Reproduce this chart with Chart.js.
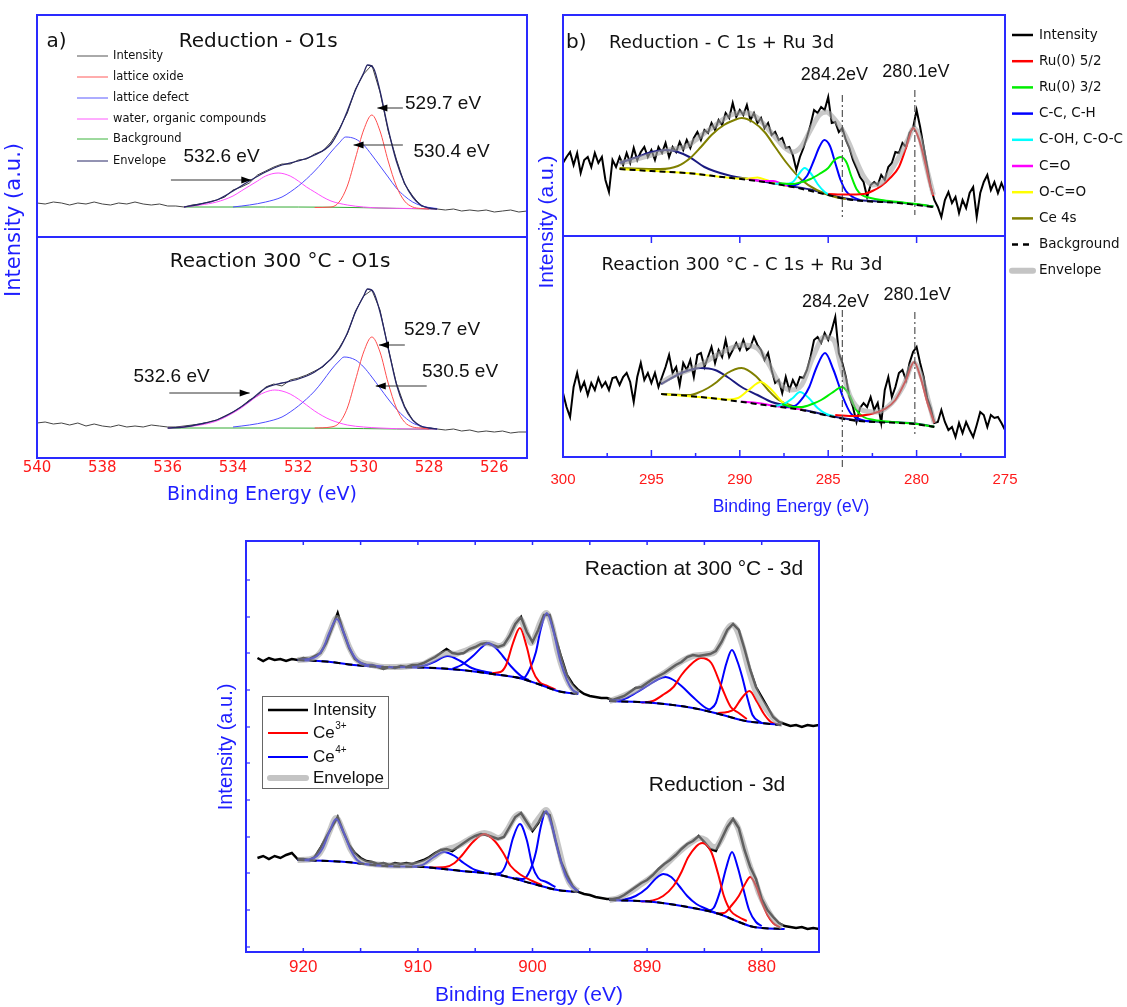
<!DOCTYPE html>
<html>
<head>
<meta charset="utf-8">
<script src="https://cdn.jsdelivr.net/npm/chart.js@4.4.1/dist/chart.umd.min.js"></script>
<style>
  html, body { margin: 0; background: #fff; }
  #page { position: relative; width: 1127px; height: 1007px; overflow: hidden; background: #fff; }
  #page canvas { position: absolute; left: 0; top: 0; }
</style>
</head>
<body>
<div id="page">
  <canvas id="aTop"></canvas>
  <canvas id="aBot"></canvas>
  <canvas id="bTop"></canvas>
  <canvas id="bBot"></canvas>
  <canvas id="cAll"></canvas>
</div>
<script>
// ---------- panel a : O 1s ----------
const aTicks = [540, 538, 536, 534, 532, 530, 528, 526];
const aStart = 540, aStep = 0.25;

const aTopIntensity = [34,33,35,34,32,34,33,35,33,32, 34,33,35,33,32,33,31,31,30,32,
  33,35,37,40,47,50,54,62,66,70, 73,73,77,78,83,86,95,108,124,148,
  163,172,145,106,78,53,41,31,29,28, 27,28,26,27,26,27,25,26,27,25, 26];
const aTopEnvelope = [[535.5,30],[535,33],[534.5,37],[534,46],[533.5,56],[533,65],[532.5,72],[532,76],[531.5,82],[531,93],[530.75,107],[530.5,126],[530.25,147],[530,164],[529.88,172],[529.7,169],[529.5,146],[529.25,108],[529,76],[528.75,54],[528.5,40],[528.25,32],[528,29],[527.75,28]];
const aTopOxide = [[531.5,29.5],[531,30],[530.75,35],[530.5,51],[530.25,79],[530,107],[529.75,122],[529.5,106],[529.25,76],[529,51],[528.75,36],[528.5,30],[528.25,28.5],[528,28]];
const aTopDefect = [[534,30],[533.5,32],[533,35],[532.5,40],[532.25,45],[532,51],[531.75,58],[531.5,66],[531.25,75],[531,85],[530.75,94],[530.55,100],[530.25,98],[530,92],[529.75,82],[529.5,71],[529.25,60],[529,49],[528.75,41],[528.5,35],[528.25,31.5],[528,29.5],[527.75,28.5]];
const aTopWater = [[535.5,30],[535,32],[534.5,35],[534,41],[533.75,46],[533.5,51],[533.25,56],[533,61],[532.62,64],[532.25,61],[532,56],[531.75,50],[531.5,45],[531.25,40],[531,36],[530.5,32],[530,30],[529.5,29],[528.5,28.5],[527.75,28]];
const aTopBackground = [[535.5,30],[533,30],[531,29.8],[530,29.3],[529,28.6],[528,28.1],[527.75,28]];

const aBotIntensity = [35,36,34,35,33,35,32,34,32,31, 33,31,32,31,33,32,31,31,32,33,
  34,36,38,42,46,51,58,62,71,74, 72,78,80,83,87,91,99,110,124,147,
  162,168,148,110,75,52,38,31,30,29, 28,29,27,28,26,27,26,27,25,26, 26];
const aBotEnvelope = [[536,30],[535.5,31],[535,34],[534.5,38],[534,46],[533.5,57],[533,70],[532.75,73],[532.5,75],[532,79],[531.5,86],[531,99],[530.75,109],[530.5,125],[530.25,146],[530,162],[529.88,169],[529.7,166],[529.5,146],[529.25,110],[529,74],[528.75,51],[528.5,38],[528.25,32],[528,30],[527.75,29]];
const aBotOxide = [[531.5,30],[531,31],[530.75,35],[530.5,50],[530.25,78],[530,106],[529.75,121],[529.5,106],[529.25,75],[529,50],[528.75,36],[528.5,31],[528.25,30],[528,29]];
const aBotDefect = [[534,31],[533.5,33],[533,36],[532.5,41],[532.25,46],[532,52],[531.75,59],[531.5,67],[531.25,77],[531,88],[530.75,97],[530.6,101],[530.25,98],[530,91],[529.75,81],[529.5,70],[529.25,59],[529,49],[528.75,41],[528.5,35],[528.25,32],[528,30],[527.75,29]];
const aBotWater = [[536,30],[535.5,31],[535,33],[534.5,37],[534,45],[533.75,50],[533.5,56],[533.25,62],[533,66],[532.72,68],[532.5,67],[532.25,64],[532,59],[531.75,53],[531.5,47],[531.25,42],[531,38],[530.5,33],[530,31],[529.5,30],[528.5,29],[527.75,29]];
const aBotBackground = [[536,30],[533,30],[531,29.8],[530,29.4],[529,29],[528,28.8],[527.75,28.7]];

// ---------- panel b : C 1s + Ru 3d ----------
const bTicks = [300, 295, 290, 285, 280, 275];
const bMinor = [297.5, 292.5, 287.5, 282.5, 277.5];
const bStart = 300, bStep = 0.2;

const bTopIntensity = [73,79,84,71,83,63,76,79,69,83, 73,79,56,44,76,69,79,71,83,73,
  88,76,84,89,79,86,76,89,83,93, 79,89,84,94,86,96,88,98,104,96,
  106,103,113,106,116,111,123,118,133,119, 126,121,131,116,123,113,118,108,113,101,
  104,96,98,88,89,81,66,79,88,99, 111,126,123,129,126,139,113,114,104,108,
  96,88,76,68,59,54,39,51,54,51, 61,56,69,73,84,83,93,89,103,108,
  126,109,89,69,49,36,29,19,36,44, 33,39,23,36,28,43,49,19,43,54, 61,46,54,43,53,44];
const bTopBackground = [[296.8,67],[295,65],[293,63],[291,59],[289,55],[287,49],[285,41],[284,37],[283,35],[281,33],[280,31],[279.05,29]];
const bTopExtra = [[296.8,73],[295.8,79],[295,84],[294.1,86],[293.5,84],[292.85,79],[292,69],[290.7,61],[289.5,57],[288.2,53],[287,49.5],[286,46.5],[285,41.5],[284,37.5],[283,35.5],[281,33.5],[280,31.5],[279.05,29.5]];
const bTopCe4s = [[296.8,68],[294.5,67],[293.5,70],[292.8,78],[292.2,89],[291.6,101],[290.9,111],[290.3,116],[289.9,118],[289.25,114],[288.6,104],[288,89],[287.35,73],[286.5,56],[285.65,46],[284.6,39],[284,37]];
const bTopOCO = [[296.8,67],[293,63],[291,59],[290,57.5],[289.5,57.5],[289,58.5],[288.5,56],[288,53],[287,49]];
const bTopCO = [[289.5,56.5],[288.6,55],[288.1,55],[287.6,52],[287,49]];
const bTopCOH = [[288,52.5],[287.5,52],[287,54],[286.7,61],[286.33,68],[286,63],[285.6,52],[285.2,44],[284.8,40]];
const bTopCC = [[287.3,50],[286.7,52],[286.2,60],[285.8,76],[285.5,89],[285.22,96],[284.9,90],[284.6,73],[284.3,56],[284,45],[283.6,39],[283.2,36]];
const bTopRu32 = [[287.8,53],[287,52],[286.5,54],[286,57],[285.5,62],[285,68],[284.7,75],[284.27,79],[283.95,73],[283.7,60],[283.4,47],[283.1,41],[282.6,38],[282,36],[281,34],[280,32],[279.05,29.5]];
const bTopRu52 = [[285,42],[284,41.5],[283,42],[282.5,45],[282,50],[281.5,58],[281,69],[280.6,88],[280.19,108],[279.85,96],[279.5,72],[279.25,52],[279.05,40]];
const bTopEnvelope = [[296.8,73],[296,76],[295,81],[294,86],[293,90],[292.5,96],[292,103],[291.5,109],[291,116],[290.5,121],[290,123],[289.5,123],[289,118],[288.5,109],[288,99],[287.5,89],[287,84],[286.5,90],[286,106],[285.5,121],[285.1,124],[284.7,118],[284.2,106],[283.8,92],[283.5,79],[283,60],[282.5,51],[282,53],[281.5,64],[281,79],[280.5,96],[280.15,108],[279.8,97],[279.5,73],[279.25,55],[279.05,41]];

const bBotIntensity = [64,50,40,70,84,67,75,62,74,67, 79,70,75,67,79,80,72,80,84,75,
  55,80,94,77,84,74,84,70,80,90, 102,84,90,72,94,87,97,80,102,104,
  90,100,110,94,107,100,117,100,107,114, 107,117,107,110,120,112,107,97,104,87,
  74,77,64,80,67,77,70,80,79,87, 100,117,120,114,124,117,127,140,104,94,
  80,60,50,35,49,54,50,60,47,54, 34,67,80,60,70,84,87,77,94,105,
  110,94,80,59,49,34,35,47,35,27, 30,20,34,24,35,27,20,32,45,42, 30,42,39,40,34,27];
const bBotBackground = [[294.45,63],[292.85,61],[290.7,57],[288.6,52],[286.5,47],[285.2,42],[284.4,39],[283.3,36],[282.3,35],[280.1,33],[279,30]];
const bBotExtra = [[294.45,73],[293.3,84],[292.2,89],[291.4,87],[290.7,80],[289.9,70],[289,62],[288.2,55],[287.3,51],[286.5,47.5],[285.2,42.5],[284.4,39.5],[283.3,36.5],[282.3,35.5],[280.1,33.5],[279,30.5]];
const bBotCe4s = [[294.45,63],[292.8,62],[292.4,64],[291.8,69],[291.3,75],[290.7,84],[289.9,89],[289.1,81],[288.4,67],[287.8,57],[287,51],[286.5,48]];
const bBotOCO = [[294.45,63],[292,59.5],[290.6,57.5],[290.1,59],[289.5,67],[288.82,75],[288.2,67],[287.6,55],[287.1,50],[286.5,47.5]];
const bBotCO = [[289.9,55.5],[289,54],[288,51],[287,49],[286.3,46.5]];
const bBotCOH = [[288,51],[287.5,53],[287,59],[286.6,65],[286.1,59],[285.6,49],[285.1,43],[284.7,41]];
const bBotCC = [[287.5,50],[286.9,51],[286.4,60],[286.07,70],[285.65,90],[285.18,104],[284.7,87],[284.4,72],[284.17,60],[283.74,44],[283.1,37],[282.5,35.5]];
const bBotRu32 = [[287.6,53],[287,50],[286.5,50],[285.9,53],[285.4,57],[284.8,64],[284.21,70],[283.8,62],[283.45,48],[283,40],[282.4,37],[281.4,35],[280.1,33.2],[279,30.2]];
const bBotRu52 = [[284.6,42],[283.5,41],[282.7,42.5],[282.2,45],[281.8,48],[281.2,57],[280.6,77],[280.14,95],[279.75,78],[279.4,55],[279,34]];
const bBotEnvelope = [[294.45,74],[293.9,80],[292.85,87],[292.2,92],[291.6,99],[290.73,107],[289.88,112],[289.03,109],[288.4,94],[287.76,74],[287.13,67],[286.5,72],[285.86,100],[285.22,120],[284.7,117],[284.27,90],[283.74,60],[283.1,47],[282.26,45],[281.4,54],[280.78,70],[280.14,94],[279.72,80],[279.3,54],[279,34]];

// ---------- panel c : Ce 3d ----------
const cTicks = [920, 910, 900, 890, 880];
const cMinor = [920, 915, 910, 905, 900, 895, 890, 885, 880];
const cYTicks = [5, 42, 79, 115, 152, 189, 225, 262, 299, 335, 372];
const cStart = 924, cStep = 0.5;

const cRxIntensity = [294,291,294,292,293,291,293,292,294,293, 296,299,309,324,339,320,304,293,289,287,
  287,285,283,285,284,286,285,287,287,289, 292,295,299,303,299,298,299,303,305,308,
  309,307,305,307,316,328,335,320,310,322, 337,337,315,295,277,268,262,258,256,255,
  254,254,252,254,256,260,264,265,269,273, 276,279,283,287,290,295,297,296,297,298,
  301,310,322,328,322,303,282,265,255,245, 235,230,228,226,227,225,227,226,227];
const cRxBackground = [
  [[920.5,292],[917.6,290],[915.6,287],[912.9,285],[909.6,284.5],[906.2,282],[903.5,278],[901.2,274],[899.5,268],[897.8,261],[896,258]],
  [[893.3,251],[889.4,249],[886,244],[883.4,237],[881.4,231],[880,229],[878.3,227]]];
const cRxCe4 = [
  [[920.5,292],[919.5,293],[918.8,296],[918.3,303],[917.7,320],[917.08,333],[916.5,320],[916,305],[915.4,293],[914.8,288],[914,286.5],[913,285.5]],
  [[910.5,285],[909.6,286],[908.6,290],[907.4,296],[906.3,291],[905.3,284],[904.2,280.5],[903.5,279]],
  [[907,283],[906.2,287],[905.2,296],[904.4,305],[903.87,309],[903.2,304],[902.6,296],[901.9,286],[901,276],[900.3,272]],
  [[901.5,275],[900.8,274],[900.2,284],[899.7,300],[899.3,322],[898.76,339],[898.2,322],[897.6,292],[897,272],[896.5,262],[896,259]],
  [[893.3,251],[892,253],[891,259],[890,266],[889,273],[888.4,275],[887.7,272],[887,266],[886,255],[885,245],[884.5,242]],
  [[884.6,242],[884,249],[883.5,270],[883.1,288],[882.6,302],[882.1,290],[881.7,275],[881.2,252],[880.8,237],[880,229]]];
const cRxCe3 = [
  [[903.5,279],[902.8,280],[902.3,287],[901.7,309],[901.1,324],[900.5,305],[900,282],[899.4,270],[898.8,266.5],[898,262.5]],
  [[890.5,249.5],[889.5,251],[888.5,258],[887.7,265],[887,277],[886.4,285],[885.3,294],[884.4,289],[883.5,265],[882.7,245],[882,239],[881.3,233]],
  [[883.8,239],[883,240],[882.4,243],[881.8,253],[881.07,261],[880.4,250],[879.8,238],[879.2,230],[878.5,227.5]]];
const cRxEnvelope = [
  [[920.5,292],[919.5,293],[918.8,296],[918.3,303],[917.7,320],[917.08,334],[916.5,320],[916,305],[915.4,293],[914.8,289],[914,287],[913,285],[912,285],[911,285.5],[910,287],[909.5,288],[909,291],[908.5,294],[907.8,298],[907.4,299],[906.8,298],[906.2,300],[905.5,303],[904.8,307],[904.2,309],[903.5,308],[903,306],[902.6,307],[902.1,314],[901.6,326],[901.1,333],[900.6,322],[900.1,309],[899.7,318],[899.3,330],[898.8,339],[898.3,326],[897.8,300],[897.3,281],[896.8,268],[896.3,261],[896,259]],
  [[893.3,251],[892.5,254],[891.5,259],[890.5,265],[889.5,272],[888.5,279],[887.5,287],[886.8,292],[886,296],[885.3,297],[884.6,298],[884.1,300],[883.6,309],[883.1,321],[882.6,327],[882.2,323],[881.7,307],[881.2,285],[880.7,266],[880.2,253],[879.6,243],[879,234],[878.5,229],[878.2,228]]];

const cRdIntensity = [94,96,93,96,94,97,99,93,93,92, 95,104,115,125,135,120,107,99,94,91,
  90,88,89,87,89,88,89,88,90,92, 95,99,102,103,101,105,109,113,116,118,
  117,115,113,115,125,135,139,130,121,129, 140,137,112,90,77,66,60,58,57,55,
  54,53,53,54,57,61,65,69,72,77, 83,88,92,97,103,108,111,116,110,103,
  101,113,125,133,124,102,85,73,53,42, 35,29,26,25,24,25,23,24,23];
const cRdBackground = [
  [[920.5,92],[916.3,90],[912.9,86],[909.6,85],[906.2,81],[902.9,77],[900.2,69],[897.8,62],[896,60]],
  [[893.3,52],[889.4,50],[886,44],[883.7,38],[882,30],[880.7,25],[878,23]]];
const cRdCe4 = [
  [[920.5,92],[919.5,92.5],[918.8,96],[918.3,104],[917.7,121],[917.14,133],[916.5,120],[915.9,103],[915.3,92],[914.6,88],[914,87.5]],
  [[910.5,85.5],[909.6,87],[908.6,95],[907.73,100],[906.8,96],[906,89],[905,82],[904.2,79.5]],
  [[903.5,78],[902.8,79],[902.3,88],[901.7,114],[901.1,128],[900.5,112],[900,86],[899.5,74],[898.8,70],[898,65]],
  [[901.5,74],[900.8,73],[900.2,82],[899.7,100],[899.3,124],[898.82,141],[898.3,126],[897.7,98],[897.1,76],[896.5,65],[896,61]],
  [[893.3,52],[892,52.5],[891,56],[890,64],[889.2,74],[888.57,78],[887.9,75],[887.2,66],[886.5,56],[885.7,48],[884.8,43],[884,39]],
  [[884.8,41],[884.2,44],[883.6,62],[883.1,84],[882.59,100],[882.1,85],[881.6,63],[881.1,42],[880.5,30],[880,26]]];
const cRdCe3 = [
  [[909,84.5],[907.6,85],[906.8,89],[906.2,96],[905.2,110],[904.2,118],[903.3,111],[902.6,100],[901.9,86],[901,77],[900,71],[899.2,67]],
  [[890.5,50.5],[889.5,51.5],[888.6,56],[887.7,66],[887,80],[886.4,95],[885.2,109],[884.4,100],[883.8,78],[883.3,56],[882.7,41],[882,35],[881.3,31]],
  [[884,38.5],[883.3,39],[882.6,47],[882,56],[881.5,67],[881,75],[880.5,66],[880,50],[879.5,37],[879,29],[878.4,24.5]]];
const cRdEnvelope = [
  [[920.5,92],[919.5,92.5],[918.8,96],[918.3,104],[917.7,121],[917.14,134],[916.5,120],[915.9,103],[915.3,93],[914.6,89],[914,88],[913,87],[912,86.5],[911,86.5],[910,87.5],[909.5,89],[909,92],[908.5,96],[907.9,101],[907.4,103],[906.8,105],[906.2,108],[905.5,113],[904.8,117],[904.2,119],[903.6,117],[903,114],[902.6,116],[902.1,124],[901.6,134],[901.1,138],[900.6,131],[900.1,124],[899.7,130],[899.3,136],[898.82,142],[898.3,130],[897.8,108],[897.3,85],[896.8,70],[896.3,63],[896,61]],
  [[893.3,52],[892.5,54],[891.5,60],[890.5,68],[889.5,76],[888.5,86],[887.5,97],[886.8,104],[886.1,110],[885.4,114],[884.9,112],[884.4,106],[884,105],[883.6,111],[883.1,123],[882.6,132],[882.1,125],[881.6,107],[881.1,88],[880.6,72],[880.2,58],[879.6,44],[879,33],[878.5,27],[878.2,25]]];

// ---------- helpers ----------
const FRAME = '#2a2aff';
const BLUE_TXT = '#1e1eff';
const DV = '"DejaVu Sans"';
const LS = '"Liberation Sans"';
Chart.defaults.font.family = 'Liberation Sans';

const P = arr => arr.map(p => ({x: p[0], y: p[1]}));
const G = (start, step, vals) => vals.map((v, i) => ({x: start - i * step, y: v}));
function line(data, color, width, order, extra) {
  return Object.assign({data, borderColor: color, borderWidth: width, pointRadius: 0,
    fill: false, order, tension: 0}, extra || {});
}
const SM = {cubicInterpolationMode: 'monotone'};

function drawText(c, it, X, Y) {
  const x = it.abs ? it.x : X(it.x), y = it.abs ? it.y : Y(it.y);
  c.save();
  c.font = it.f; c.fillStyle = it.col || '#111';
  c.textBaseline = 'middle';
  c.translate(x, y);
  if (it.rot) c.rotate(-Math.PI / 2);
  c.textAlign = it.al || 'left';
  c.fillText(it.s, 0, 0);
  c.restore();
}

function decoPlugin(items) {
  return {
    id: 'deco',
    afterDatasetsDraw(chart) {
      const c = chart.ctx, a = chart.chartArea;
      const X = v => chart.scales.x.getPixelForValue(v);
      const Y = v => chart.scales.y.getPixelForValue(v);
      c.save();
      for (const it of items) {
        if (it.k === 'xt') {
          c.strokeStyle = FRAME; c.lineWidth = 1.5;
          for (const v of it.at) {
            const x = X(v);
            c.beginPath();
            if (it.side === 'top') { c.moveTo(x, a.top); c.lineTo(x, a.top + it.len); }
            else { c.moveTo(x, a.bottom); c.lineTo(x, a.bottom - it.len); }
            c.stroke();
          }
        } else if (it.k === 'yt') {
          c.strokeStyle = FRAME; c.lineWidth = 1.2;
          for (const v of it.at) {
            const y = Y(v);
            c.beginPath(); c.moveTo(a.left, y); c.lineTo(a.left + it.len, y); c.stroke();
          }
        } else if (it.k === 'vline') {
          c.strokeStyle = '#555'; c.lineWidth = 1.2; c.setLineDash([7, 3, 2, 3]);
          c.beginPath(); c.moveTo(X(it.x), Y(it.y1)); c.lineTo(X(it.x), Y(it.y2)); c.stroke();
          c.setLineDash([]);
        } else if (it.k === 'arrow') {
          const x1 = X(it.x1), y1 = Y(it.y1), x2 = X(it.x2), y2 = Y(it.y2);
          c.strokeStyle = '#333'; c.fillStyle = '#000'; c.lineWidth = 1;
          c.beginPath(); c.moveTo(x1, y1); c.lineTo(x2, y2); c.stroke();
          const ang = Math.atan2(y2 - y1, x2 - x1), L = 10, W = 3.5;
          c.beginPath(); c.moveTo(x2, y2);
          c.lineTo(x2 - L * Math.cos(ang) + W * Math.sin(ang), y2 - L * Math.sin(ang) - W * Math.cos(ang));
          c.lineTo(x2 - L * Math.cos(ang) - W * Math.sin(ang), y2 - L * Math.sin(ang) + W * Math.cos(ang));
          c.closePath(); c.fill();
        } else if (it.k === 'text') {
          drawText(c, it, X, Y);
        } else if (it.k === 'box') {
          c.fillStyle = '#fff'; c.fillRect(it.x, it.y, it.w, it.h);
          c.strokeStyle = '#666'; c.lineWidth = 1; c.strokeRect(it.x + 0.5, it.y + 0.5, it.w, it.h);
        } else if (it.k === 'leg') {
          c.strokeStyle = it.col; c.lineWidth = it.w; c.setLineDash(it.dash || []);
          c.lineCap = it.w > 4 ? 'round' : 'butt';
          c.beginPath(); c.moveTo(it.x, it.y); c.lineTo(it.x + it.len, it.y); c.stroke();
          c.setLineDash([]); c.lineCap = 'butt';
          c.font = it.f; c.fillStyle = '#111'; c.textAlign = 'left'; c.textBaseline = 'middle';
          c.fillText(it.s, it.tx, it.y);
          if (it.sup) {
            const w = c.measureText(it.s).width;
            c.font = it.supF; c.fillText(it.sup, it.tx + w + 0.5, it.y - 7);
          }
        }
      }
      c.strokeStyle = FRAME; c.lineWidth = 2; c.setLineDash([]);
      c.strokeRect(a.left, a.top, a.right - a.left, a.bottom - a.top);
      c.restore();
    }
  };
}

function makeChart(id, o) {
  const cv = document.getElementById(id);
  cv.width = 1127; cv.height = 1007;
  const axisH = o.ticks ? 40 : 0;
  return new Chart(cv, {
    type: 'line',
    data: {datasets: o.sets},
    options: {
      responsive: false, animation: false, events: [], devicePixelRatio: 1,
      layout: {padding: o.pad},
      plugins: {legend: {display: false}, tooltip: {enabled: false}},
      scales: {
        x: {
          type: 'linear', reverse: true, min: o.xr[0], max: o.xr[1],
          display: !!o.ticks,
          grid: {display: false, drawTicks: false}, border: {display: false},
          afterBuildTicks: s => { if (o.ticks) s.ticks = o.ticks.map(v => ({value: v})); },
          afterFit: s => { s.height = axisH; s.paddingLeft = 0; s.paddingRight = 0; },
          ticks: {color: '#ff1a1a', font: o.tickFont || {size: 12}, padding: o.tickPad || 0,
                  maxRotation: 0, autoSkip: false}
        },
        y: {type: 'linear', min: 0, max: o.ymax, display: false}
      }
    },
    plugins: [decoPlugin(o.items)]
  });
}

// ---------- panel a ----------
const aPeakFont = '19px ' + LS;
const aLegFont = '11.5px ' + DV;
const aLeg = [['Intensity', '#555'], ['lattice oxide', '#ff5a5a'], ['lattice defect', '#5a5aff'],
  ['water, organic compounds', '#ff5aff'], ['Background', '#3cb43c'], ['Envelope', '#262666']];
const aLegY = [56, 77, 98, 119, 139, 161];

makeChart('aTop', {
  xr: [525, 540], ymax: 222,
  pad: {left: 37, top: 15, right: 600, bottom: 770},
  sets: [
    line(G(aStart, aStep, aTopIntensity), '#444', 1, 7),
    line(P(aTopBackground), '#33aa33', 1, 6, SM),
    line(P(aTopWater), '#ff4dff', 1, 5, SM),
    line(P(aTopDefect), '#4d4dff', 1, 4, SM),
    line(P(aTopOxide), '#ff4d4d', 1, 3, SM),
    line(P(aTopEnvelope), '#262666', 1.3, 1, SM)
  ],
  items: [
    {k: 'text', x: 539.71, y: 195, s: 'a)', f: '20px ' + DV},
    {k: 'text', x: 533.23, y: 195, s: 'Reduction - O1s', f: '20px ' + DV, al: 'center'},
    {k: 'text', x: 527.57, y: 133, s: '529.7 eV', f: aPeakFont, al: 'center'},
    {k: 'arrow', x1: 528.80, y1: 129, x2: 529.58, y2: 129},
    {k: 'text', x: 527.31, y: 85, s: '530.4 eV', f: aPeakFont, al: 'center'},
    {k: 'arrow', x1: 528.80, y1: 92, x2: 530.31, y2: 92},
    {k: 'text', x: 534.35, y: 80, s: '532.6 eV', f: aPeakFont, al: 'center'},
    {k: 'arrow', x1: 535.90, y1: 57, x2: 533.44, y2: 57},
    ...aLeg.map((l, i) => ({k: 'leg', x: 77, y: aLegY[i], len: 31, col: l[1], w: 1, s: l[0], tx: 113, f: aLegFont})),
    {k: 'text', abs: true, x: 15, y: 220, s: 'Intensity (a.u.)', f: '21px ' + DV, col: BLUE_TXT, al: 'center', rot: true}
  ]
});

makeChart('aBot', {
  xr: [525, 540], ymax: 221, ticks: aTicks,
  tickFont: {family: 'DejaVu Sans', size: 15}, tickPad: 1,
  pad: {left: 37, top: 237, right: 600, bottom: 509},
  sets: [
    line(G(aStart, aStep, aBotIntensity), '#444', 1, 7),
    line(P(aBotBackground), '#33aa33', 1, 6, SM),
    line(P(aBotWater), '#ff4dff', 1, 5, SM),
    line(P(aBotDefect), '#4d4dff', 1, 4, SM),
    line(P(aBotOxide), '#ff4d4d', 1, 3, SM),
    line(P(aBotEnvelope), '#262666', 1.3, 1, SM)
  ],
  items: [
    {k: 'text', x: 532.56, y: 196, s: 'Reaction 300 °C - O1s', f: '20px ' + DV, al: 'center'},
    {k: 'text', x: 527.60, y: 128, s: '529.7 eV', f: aPeakFont, al: 'center'},
    {k: 'arrow', x1: 528.74, y1: 113, x2: 529.53, y2: 113},
    {k: 'text', x: 527.05, y: 86, s: '530.5 eV', f: aPeakFont, al: 'center'},
    {k: 'arrow', x1: 528.07, y1: 72, x2: 529.63, y2: 72},
    {k: 'text', x: 535.88, y: 81, s: '532.6 eV', f: aPeakFont, al: 'center'},
    {k: 'arrow', x1: 535.95, y1: 65, x2: 533.49, y2: 65},
    {k: 'text', abs: true, x: 262, y: 495, s: 'Binding Energy (eV)', f: '19px ' + DV, col: BLUE_TXT, al: 'center'}
  ]
});

// ---------- panel b ----------
const bCol = {ru52: '#ff0000', ru32: '#00ee00', cc: '#0000ff', coh: '#00ffff', co: '#ff00ff',
  oco: '#ffff00', ce4s: '#808000', extra: '#1a1a80', env: 'rgba(165,165,165,0.6)'};
function bSets(I, bg, ex, ce, oco, co, coh, cc, r32, r52, env) {
  return [
    line(G(bStart, bStep, I), '#000', 2, 20),
    line(P(ex), bCol.extra, 2, 11, SM),
    line(P(ce), bCol.ce4s, 2, 10, SM),
    line(P(oco), bCol.oco, 2, 9, SM),
    line(P(co), bCol.co, 2, 8, SM),
    line(P(coh), bCol.coh, 2, 7, SM),
    line(P(cc), bCol.cc, 2, 6, SM),
    line(P(r32), bCol.ru32, 2, 5, SM),
    line(P(r52), bCol.ru52, 2, 4, SM),
    line(P(bg), '#000', 2, 3, Object.assign({borderDash: [6, 4]}, SM)),
    line(P(env), bCol.env, 5, 1, SM)
  ];
}
const bLegFont = '13.5px ' + DV;
const bLeg = [['Intensity', '#000', 2.5], ['Ru(0) 5/2', bCol.ru52, 2.5], ['Ru(0) 3/2', bCol.ru32, 2.5],
  ['C-C, C-H', bCol.cc, 2.5], ['C-OH, C-O-C', bCol.coh, 2.5], ['C=O', bCol.co, 2.5],
  ['O-C=O', bCol.oco, 2.5], ['Ce 4s', bCol.ce4s, 2.5], ['Background', '#000', 2.5, [6, 5]],
  ['Envelope', '#c4c4c4', 6]];

makeChart('bTop', {
  xr: [275, 300], ymax: 221,
  pad: {left: 563, top: 15, right: 122, bottom: 771},
  sets: bSets(bTopIntensity, bTopBackground, bTopExtra, bTopCe4s, bTopOCO, bTopCO, bTopCOH, bTopCC, bTopRu32, bTopRu52, bTopEnvelope),
  items: [
    {k: 'vline', x: 284.2, y1: 141, y2: 19},
    {k: 'vline', x: 280.1, y1: 146, y2: 21},
    {k: 'text', x: 299.83, y: 193, s: 'b)', f: '20px ' + DV},
    {k: 'text', x: 297.4, y: 193, s: 'Reduction - C 1s + Ru 3d', f: '18px ' + DV},
    {k: 'text', x: 284.65, y: 161, s: '284.2eV', f: '18px ' + LS, al: 'center'},
    {k: 'text', x: 280.04, y: 164, s: '280.1eV', f: '18px ' + LS, al: 'center'},
    ...bLeg.map((l, i) => ({k: 'leg', x: 1012, y: 35 + i * 26.2, len: 21, col: l[1], w: l[2], dash: l[3], s: l[0], tx: 1039, f: bLegFont})),
    {k: 'text', abs: true, x: 547, y: 222, s: 'Intensity (a.u.)', f: '21px ' + LS, col: BLUE_TXT, al: 'center', rot: true}
  ]
});

makeChart('bBot', {
  xr: [275, 300], ymax: 221, ticks: bTicks,
  tickFont: {family: 'Liberation Sans', size: 15}, tickPad: 14,
  pad: {left: 563, top: 236, right: 122, bottom: 510},
  sets: bSets(bBotIntensity, bBotBackground, bBotExtra, bBotCe4s, bBotOCO, bBotCO, bBotCOH, bBotCC, bBotRu32, bBotRu52, bBotEnvelope),
  items: [
    {k: 'xt', side: 'bottom', at: bTicks, len: 7},
    {k: 'xt', side: 'bottom', at: bMinor, len: 4},
    {k: 'xt', side: 'top', at: bTicks, len: 7},
    {k: 'vline', x: 284.2, y1: 147, y2: -10},
    {k: 'vline', x: 280.1, y1: 145, y2: 23},
    {k: 'text', x: 297.82, y: 192, s: 'Reaction 300 °C - C 1s + Ru 3d', f: '18px ' + DV},
    {k: 'text', x: 284.59, y: 155, s: '284.2eV', f: '18px ' + LS, al: 'center'},
    {k: 'text', x: 279.97, y: 162, s: '280.1eV', f: '18px ' + LS, al: 'center'},
    {k: 'text', abs: true, x: 791, y: 507, s: 'Binding Energy (eV)', f: '17.5px ' + LS, col: BLUE_TXT, al: 'center'}
  ]
});

// ---------- panel c ----------
const cEnv = 'rgba(160,160,160,0.6)';
function cSets(I, bg, ce4, ce3, env) {
  const s = [line(G(cStart, cStep, I), '#000', 2.5, 20)];
  bg.forEach(seg => {
    s.push(line(P(seg), '#0000ff', 2, 4, SM));
    s.push(line(P(seg), '#000', 2, 3, Object.assign({borderDash: [7, 5]}, SM)));
  });
  ce4.forEach(pk => s.push(line(P(pk), '#0000ff', 2, 6, SM)));
  ce3.forEach(pk => s.push(line(P(pk), '#ff0000', 2, 5, SM)));
  env.forEach(seg => s.push(line(P(seg), cEnv, 6, 1, SM)));
  return s;
}
const cLegFont = '17px ' + LS;

makeChart('cAll', {
  xr: [875, 925], ymax: 411, ticks: cTicks,
  tickFont: {family: 'Liberation Sans', size: 17}, tickPad: 5,
  pad: {left: 246, top: 541, right: 308, bottom: 15},
  sets: cSets(cRxIntensity, cRxBackground, cRxCe4, cRxCe3, cRxEnvelope)
    .concat(cSets(cRdIntensity, cRdBackground, cRdCe4, cRdCe3, cRdEnvelope)),
  items: [
    {k: 'xt', side: 'bottom', at: cMinor, len: 4},
    {k: 'xt', side: 'top', at: cMinor, len: 4},
    {k: 'yt', at: cYTicks, len: 4},
    {k: 'text', x: 885.91, y: 383, s: 'Reaction at 300 °C - 3d', f: '21px ' + LS, al: 'center'},
    {k: 'text', x: 883.9, y: 167, s: 'Reduction - 3d', f: '21px ' + LS, al: 'center'},
    {k: 'box', x: 262, y: 696, w: 126, h: 92},
    {k: 'leg', x: 268, y: 710, len: 40, col: '#000', w: 2.5, s: 'Intensity', tx: 313, f: cLegFont},
    {k: 'leg', x: 268, y: 733, len: 40, col: '#ff0000', w: 2, s: 'Ce', sup: '3+', supF: '10px ' + LS, tx: 313, f: cLegFont},
    {k: 'leg', x: 268, y: 757, len: 40, col: '#0000ff', w: 2, s: 'Ce', sup: '4+', supF: '10px ' + LS, tx: 313, f: cLegFont},
    {k: 'leg', x: 270, y: 778, len: 36, col: '#c4c4c4', w: 6, s: 'Envelope', tx: 313, f: cLegFont},
    {k: 'text', abs: true, x: 529, y: 995, s: 'Binding Energy (eV)', f: '21px ' + LS, col: BLUE_TXT, al: 'center'},
    {k: 'text', abs: true, x: 226, y: 747, s: 'Intensity (a.u.)', f: '20px ' + LS, col: BLUE_TXT, al: 'center', rot: true}
  ]
});
</script>
</body>
</html>
